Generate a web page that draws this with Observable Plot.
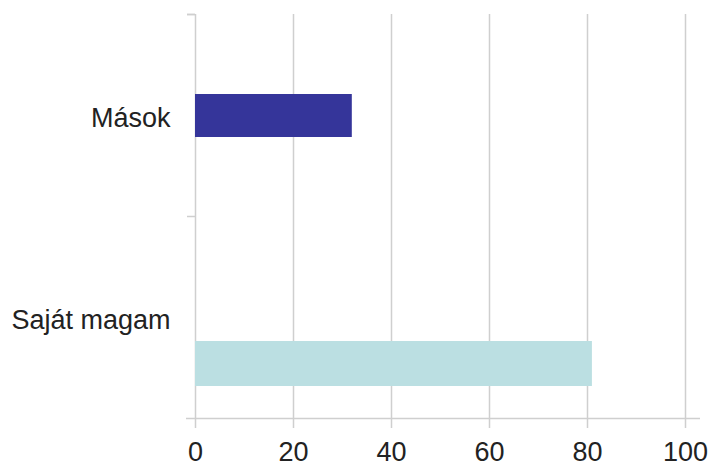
<!DOCTYPE html>
<html><head><meta charset="utf-8">
<script src="https://cdn.jsdelivr.net/npm/d3@7"></script>
<script src="https://cdn.jsdelivr.net/npm/@observablehq/plot@0.6"></script>
<style>body{margin:0;background:#fff;}</style>
</head><body><div id="chart"></div>
<script>
const categories = ["Mások", "Saját magam"];
const values = [32, 81];
const colors = ["#35359a", "#bbdfe2"];
const xTicks = [0, 20, 40, 60, 80, 100];

const W = 710, H = 464, mT = 14, mB = 46, mL = 195, mR = 25;
const data = categories.map((c, i) => ({cat: c, value: values[i], color: colors[i]}));
const bw = (H - mT - mB) / categories.length;
const grid = "#cfcfcf";

const chart = Plot.plot({
  width: W, height: H,
  marginTop: mT, marginBottom: mB, marginLeft: mL, marginRight: mR,
  style: {fontFamily: "'Liberation Sans', Arial, sans-serif", fontSize: "27px", color: "#222", background: "#fff"},
  x: {domain: [0, 100], label: null},
  y: {domain: categories, padding: 0, label: null},
  marks: [
    Plot.ruleX(xTicks, {x: d => d, stroke: grid, strokeWidth: 1.5, insetBottom: -10}),
    Plot.ruleY([categories[0], ...categories], {y: d => d, x1: 0, x2: 0, insetLeft: -8, stroke: grid, strokeWidth: 1.5,
      dy: -bw / 2}),
    Plot.ruleY([categories[categories.length - 1]], {y: d => d, stroke: grid, strokeWidth: 1.5, dy: bw / 2, insetLeft: -9, insetRight: -15}),
    Plot.barX(data.filter(d => d.cat === categories[0]), {y: "cat", x: "value", fill: "color", insetTop: 80, insetBottom: 79}),
    Plot.barX(data.filter(d => d.cat === categories[1]), {y: "cat", x: "value", fill: "color", insetTop: 125, insetBottom: 32}),
    Plot.axisX(xTicks, {tickSize: 0, tickPadding: 23, fontSize: 27, fill: "#222", label: null}),
    Plot.axisY({tickSize: 0, tickPadding: 25, fontSize: 27, fill: "#222", dy: 3, label: null})
  ]
});
document.getElementById("chart").appendChild(chart);
</script></body></html>
